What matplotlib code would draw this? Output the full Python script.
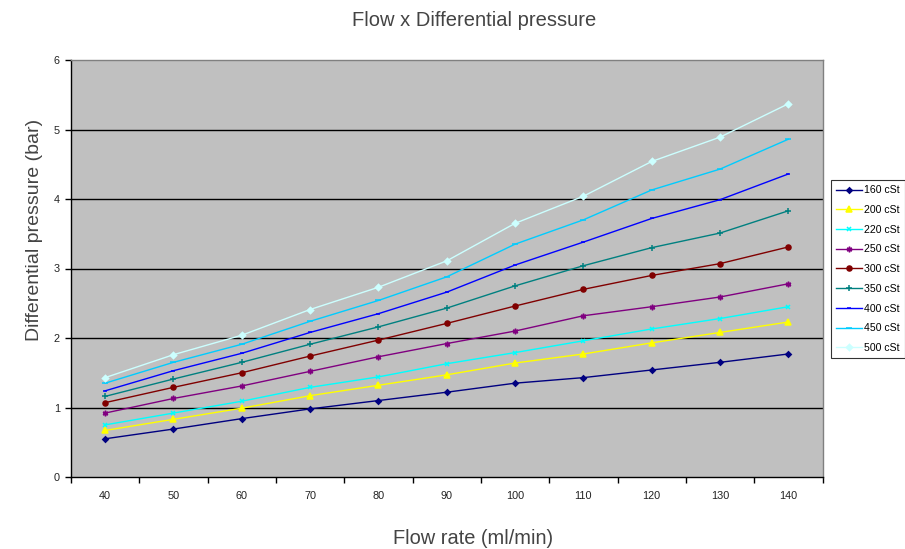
import matplotlib
matplotlib.use("Agg")
import matplotlib.pyplot as plt

# flow rate categories (ml/min)
flow = [40, 50, 60, 70, 80, 90, 100, 110, 120, 130, 140]

# differential pressure (bar)
dp_160 = [0.55, 0.69, 0.84, 0.98, 1.10, 1.22, 1.35, 1.43, 1.54, 1.65, 1.77]
dp_200 = [0.67, 0.83, 0.99, 1.17, 1.32, 1.47, 1.64, 1.77, 1.93, 2.08, 2.23]
dp_220 = [0.75, 0.92, 1.09, 1.29, 1.44, 1.63, 1.79, 1.96, 2.13, 2.28, 2.45]
dp_250 = [0.92, 1.13, 1.31, 1.52, 1.73, 1.92, 2.10, 2.32, 2.45, 2.59, 2.78]
dp_300 = [1.07, 1.29, 1.50, 1.74, 1.97, 2.21, 2.46, 2.70, 2.90, 3.07, 3.31]
dp_350 = [1.16, 1.41, 1.65, 1.91, 2.16, 2.43, 2.75, 3.04, 3.30, 3.51, 3.83]
dp_400 = [1.24, 1.53, 1.78, 2.08, 2.35, 2.66, 3.05, 3.38, 3.72, 3.99, 4.36]
dp_450 = [1.35, 1.65, 1.91, 2.24, 2.54, 2.88, 3.35, 3.70, 4.13, 4.43, 4.86]
dp_500 = [1.43, 1.76, 2.04, 2.41, 2.73, 3.11, 3.65, 4.04, 4.54, 4.89, 5.37]

series_labels = ["160 cSt", "200 cSt", "220 cSt", "250 cSt", "300 cSt",
                 "350 cSt", "400 cSt", "450 cSt", "500 cSt"]
y_ticks = [0, 1, 2, 3, 4, 5, 6]

# excel-ish styles: (color, marker, marker size)
styles = [
    ("#000080", "D", 2.8),
    ("#FFFF00", "^", 4.5),
    ("#00FFFF", "x", 3.2),
    ("#800080", (6, 2, 0), 4),
    ("#800000", "o", 3.6),
    ("#008080", "+", 4),
    ("#0000FF", "_", 3.5),
    ("#00CCFF", "_", 5),
    ("#CCFFFF", "D", 3.2),
]

all_series = [dp_160, dp_200, dp_220, dp_250, dp_300,
              dp_350, dp_400, dp_450, dp_500]

W, H = 905, 549
fig = plt.figure(figsize=(W / 100, H / 100), dpi=100)
fig.patch.set_facecolor("white")

# plot area in pixel coordinates of the reference
left, right, top, bottom = 71, 822.5, 60, 477
ax = fig.add_axes([left / W, 1 - bottom / H, (right - left) / W, (bottom - top) / H])
ax.set_facecolor("#C0C0C0")

x_pos = list(range(len(flow)))
for values, label, (color, marker, ms) in zip(all_series, series_labels, styles):
    ax.plot(x_pos, values, color=color, lw=1.0, marker=marker, markersize=ms,
            markeredgewidth=1.1, markerfacecolor=color, markeredgecolor=color,
            label=label, zorder=3)

# axes and grid
ax.set_xlim(-0.5, len(flow) - 0.5)
ax.set_ylim(0, 6)
ax.set_yticks(y_ticks)
ax.set_yticklabels([str(t) for t in y_ticks])
for yv in y_ticks[1:-1]:
    ax.axhline(yv, color="black", lw=1.0, zorder=1)

# category axis: ticks between categories, labels centred on them
ax.set_xticks([i - 0.5 for i in range(len(flow) + 1)])
ax.set_xticklabels([])
ax.set_xticks(x_pos, minor=True)
ax.set_xticklabels([str(f) for f in flow], minor=True)
ax.tick_params(axis="x", which="major", direction="out", length=4, width=1, color="black")
ax.tick_params(axis="x", which="minor", length=0, pad=10, labelsize=7.8, labelcolor="#222222")
ax.tick_params(axis="y", direction="out", length=4, width=1, color="black",
               labelsize=7.8, labelcolor="#222222", pad=4)

for side in ["top", "right"]:
    ax.spines[side].set_color("#808080")
    ax.spines[side].set_linewidth(1.0)
for side in ["left", "bottom"]:
    ax.spines[side].set_color("black")
    ax.spines[side].set_linewidth(1.0)

for lbl in ax.get_xticklabels(minor=True) + ax.get_yticklabels():
    lbl.set_fontfamily("Liberation Sans")

# titles and axis labels
text_kw = dict(family="Liberation Sans", color="#444444", ha="center", va="center")
fig.text(474 / W, 1 - 20 / H, "Flow x Differential pressure", fontsize=14.5, **text_kw)
fig.text(473 / W, 1 - 538 / H, "Flow rate (ml/min)", fontsize=14.4, **text_kw)
fig.text(35 / W, 1 - 230 / H, "Differential pressure (bar)", fontsize=14,
         rotation=90, **text_kw)

# legend box, runs up to the right edge like the original
leg = fig.legend(loc="upper left", bbox_to_anchor=(831 / W, 1 - 180 / H),
                 frameon=True, fancybox=False, edgecolor="black",
                 prop={"family": "Liberation Sans", "size": 7.6},
                 handlelength=2.4, handletextpad=0.25, labelspacing=0.92,
                 borderpad=0.5, borderaxespad=0)
leg.get_frame().set_linewidth(0.8)

fig.savefig("out.png", dpi=100)
